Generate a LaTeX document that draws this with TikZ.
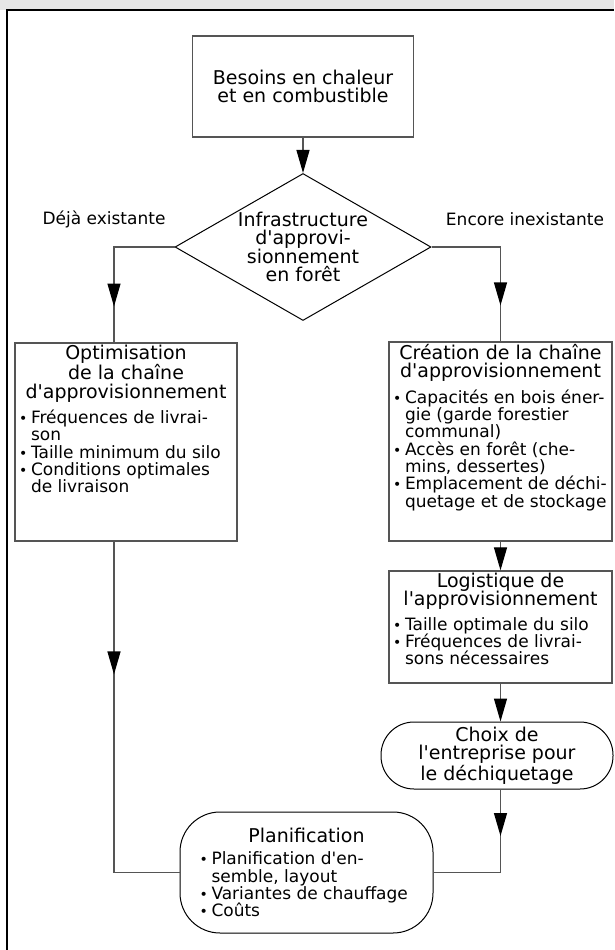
\documentclass[tikz,border=0pt]{standalone}
\usepackage{fontspec}
\setmainfont{DejaVu Sans}
\usepackage{tikz}
\usetikzlibrary{arrows.meta,positioning,shapes.geometric,decorations.markings}
\definecolor{lnc}{HTML}{555555}
\definecolor{hdr}{HTML}{E6E6E6}
\newcommand{\ap}{\textquotesingle}
\newcommand{\ttl}{\fontsize{19}{18.5}\selectfont}
\newcommand{\btxt}{\fontsize{17}{17.3}\selectfont}
\newcommand{\itm}{\par\hangindent=14pt\hangafter=1\noindent
  \makebox[14pt][l]{\hspace{2pt}{\fontsize{14}{14}\selectfont\textbullet}}}
\tikzset{
  box/.style   = {draw=lnc, line width=1.3pt, fill=white, inner sep=2pt},
  rbox/.style  = {draw=black, line width=1pt, fill=white, align=center,
                  font=\ttl, inner sep=3pt},
  dec/.style   = {diamond, aspect=1.74, draw=black, line width=1pt, align=center,
                  font=\ttl, inner sep=0pt, minimum width=256pt, minimum height=147pt},
  ar/.style    = {-{Triangle[length=23pt,width=13pt,color=black]}, draw=lnc, line width=1.2pt},
  midar/.style = {draw=lnc, line width=1.2pt, postaction={decorate},
                  decoration={markings, mark=at position #1 with
                  {\arrow{Triangle[length=23pt,width=13pt,color=black]}}}},
  lbl/.style   = {font=\btxt},
}
\begin{document}
\begin{tikzpicture}[x=1pt, y=-1pt]
  \useasboundingbox (0,0) rectangle (614,950);
  % page frame
  \fill[hdr] (0,0) rectangle (614,10);
  \draw[line width=1.5pt] (7,950) -- (7,10) -- (614,10);

  \node[box, minimum width=221pt, minimum height=101pt, align=center, font=\ttl] (need) at (303,86.5)
    {Besoins en chaleur\\ et en combustible};
  \node[dec] (infra) at (303,247) {Infrastructure\\ d\ap approvi-\\ sionnement\\ en forêt};
  \node[lbl] (yes) at (104,219) {Déjà existante};
  \node[lbl] (no) at (525,219) {Encore inexistante};

  % left branch
  \node[box] (optim) at (126,442) {\parbox[t][194pt][t]{218pt}{\raggedright
    {\centering\ttl Optimisation\\ de la chaîne\\ d\ap approvisionnement\par}
    \vspace{7pt}\btxt
    \itm Fréquences de livrai-\newline son
    \itm Taille minimum du silo
    \itm Conditions optimales\newline de livraison\par}};

  % right branch
  \node[box] (creat) at (500.5,441.5) {\parbox[t][195pt][t]{219pt}{\raggedright
    {\centering\ttl Création de la chaîne\\ d\ap approvisionnement\par}
    \vspace{7pt}\btxt
    \itm Capacités en bois éner-\newline gie (garde forestier\newline communal)
    \itm Accès en forêt (che-\newline mins, dessertes)
    \itm Emplacement de déchi-\newline quetage et de stockage\par}};
  \node[box] (logi) at (500.5,627) {\parbox[t][108pt][t]{219pt}{\raggedright
    {\centering\ttl Logistique de\\ l\ap approvisionnement\par}
    \vspace{7pt}\btxt
    \itm Taille optimale du silo
    \itm Fréquences de livrai-\newline sons nécessaires\par}};
  \node[rbox, rounded corners=33pt, minimum width=232pt, minimum height=67pt] (choix) at (497,755.5)
    {Choix de\\ l\ap entreprise pour\\ le déchiquetage};

  \node[rbox, rounded corners=40pt, minimum width=253pt, minimum height=121pt] (plan) at (306.5,872.5)
    {\parbox{218pt}{\raggedright
    {\centering\ttl Planification\par}
    \vspace{5pt}\btxt
    \itm Planification d\ap en-\newline semble, layout
    \itm Variantes de chauffage
    \itm Coûts\par}};

  \coordinate (lt) at (114,0);
  \draw[ar] (need) -- (infra);
  \draw[midar=0.77] (infra.west) -| (optim.north -| lt);
  \draw[midar=0.78] (infra.east) -| (creat.north);
  \draw[ar] (creat) -- (logi);
  \draw[ar] (logi.south) -- (logi.south |- choix.north);
  \draw[midar=0.31] (logi.south |- choix.south) |- (plan.east);
  \draw[midar=0.335] (optim.south -| lt) |- (plan.west);
\end{tikzpicture}
\end{document}
